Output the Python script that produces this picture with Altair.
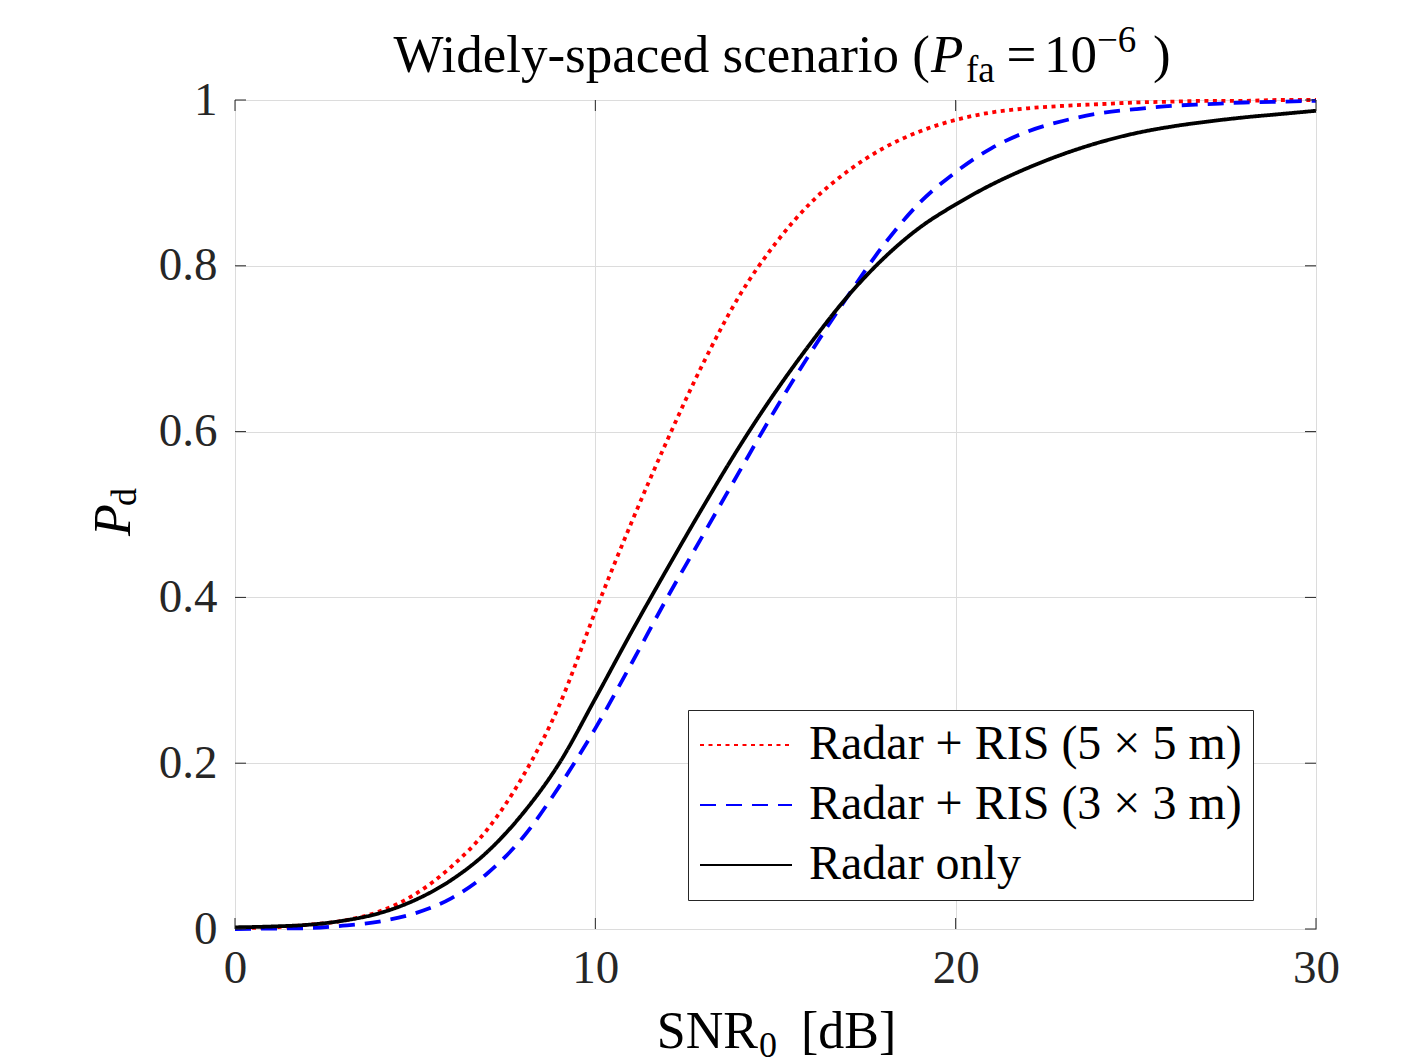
import altair as alt
import pandas as pd

# ---------------- data ----------------
snr_db = list(range(0, 31))
pd_ris_5x5 = [0.001, 0.002, 0.005, 0.010, 0.021, 0.042, 0.075, 0.120, 0.185, 0.270,
              0.383, 0.490, 0.590, 0.683, 0.764, 0.827, 0.877, 0.914, 0.942, 0.962,
              0.976, 0.985, 0.990, 0.993, 0.995, 0.997, 0.998, 0.999, 0.999, 1.000, 1.000]
pd_ris_3x3 = [0.000, 0.0005, 0.001, 0.004, 0.009, 0.019, 0.037, 0.067, 0.111, 0.172,
              0.242, 0.320, 0.400, 0.476, 0.552, 0.627, 0.697, 0.763, 0.825, 0.876,
              0.913, 0.942, 0.962, 0.975, 0.984, 0.989, 0.993, 0.995, 0.997, 0.998, 0.999]
pd_radar_only = [0.002, 0.003, 0.005, 0.010, 0.019, 0.035, 0.059, 0.093, 0.140, 0.200,
                 0.278, 0.358, 0.435, 0.510, 0.582, 0.648, 0.708, 0.763, 0.809, 0.846,
                 0.874, 0.898, 0.918, 0.935, 0.949, 0.960, 0.968, 0.974, 0.979, 0.983, 0.987]

series_names = ["Radar + RIS (5 × 5 m)", "Radar + RIS (3 × 3 m)", "Radar only"]
series_colors = ["#ff0000", "#0000ff", "#000000"]
series_dashes = [[4, 4.5], [16, 10], [1, 0]]

x_ticks = [0, 10, 20, 30]
y_ticks = [0, 0.2, 0.4, 0.6, 0.8, 1]

title_main = "Widely-spaced scenario ("
title_p = "P"
title_sub = "fa"
title_eq = "="
title_ten = "10"
title_sup = "\u22126"
title_close = ")"
xlabel_main = "SNR"
xlabel_sub = "0"
xlabel_unit = "[dB]"
ylabel_main = "P"
ylabel_sub = "d"

# ---------------- build table ----------------
rows = []
for name, vals in zip(series_names, [pd_ris_5x5, pd_ris_3x3, pd_radar_only]):
    for x, v in zip(snr_db, vals):
        rows.append({"snr": x, "pd": v, "series": name})
df = pd.DataFrame(rows)
xt_df = pd.DataFrame({"snr": x_ticks})
yt_df = pd.DataFrame({"pd": y_ticks})
one = pd.DataFrame({"_": [0]})

W, H = 1081, 829
FONT = "Liberation Serif"
AX = "#262626"
TICK = 11

xscale = alt.Scale(domain=[0, 30], nice=False, zero=False)
yscale = alt.Scale(domain=[0, 1], nice=False)

x_axis = alt.Axis(values=x_ticks, title=None, grid=True, gridColor="#dcdcdc", gridWidth=1,
                  domain=False, ticks=False, labelFont=FONT, labelFontSize=47,
                  labelColor=AX, labelPadding=16, labelFlush=False, labelOverlap=False,
                  format="d")
y_axis = alt.Axis(values=y_ticks, title=None, grid=True, gridColor="#dcdcdc", gridWidth=1,
                  domain=False, ticks=False, labelFont=FONT, labelFontSize=47,
                  labelColor=AX, labelPadding=18, labelFlush=False, labelOverlap=False,
                  labelBaseline="middle", format=".1~f")

legend = alt.Legend(title=None, orient="none", legendX=453, legendY=610,
                    direction="vertical", strokeColor=AX, fillColor="white",
                    padding=11, symbolType="stroke", symbolSize=8464, clipHeight=48,
                    symbolStrokeWidth=2, labelFont=FONT, labelFontSize=48,
                    labelColor="black", labelOffset=16, rowPadding=12, labelLimit=900)

lines = alt.Chart(df).mark_line(strokeWidth=3.8, strokeCap="butt",
                                interpolate="monotone").encode(
    x=alt.X("snr:Q", scale=xscale, axis=x_axis),
    y=alt.Y("pd:Q", scale=yscale, axis=y_axis),
    color=alt.Color("series:N", scale=alt.Scale(domain=series_names, range=series_colors),
                    legend=legend),
    strokeDash=alt.StrokeDash("series:N",
                              scale=alt.Scale(domain=series_names, range=series_dashes),
                              legend=legend),
    order=alt.Order("snr:Q"),
)

tick_kw = dict(color=AX, strokeWidth=1)
xt_bottom = alt.Chart(xt_df).mark_rule(**tick_kw).encode(
    x=alt.X("snr:Q", scale=xscale, axis=x_axis), y=alt.value(H), y2=alt.value(H - TICK))
xt_top = alt.Chart(xt_df).mark_rule(**tick_kw).encode(
    x=alt.X("snr:Q", scale=xscale, axis=x_axis), y=alt.value(0), y2=alt.value(TICK))
yt_left = alt.Chart(yt_df).mark_rule(**tick_kw).encode(
    y=alt.Y("pd:Q", scale=yscale, axis=y_axis), x=alt.value(0), x2=alt.value(TICK))
yt_right = alt.Chart(yt_df).mark_rule(**tick_kw).encode(
    y=alt.Y("pd:Q", scale=yscale, axis=y_axis), x=alt.value(W), x2=alt.value(W - TICK))


def txt(text, x, y, size, align="left", style="normal", angle=0):
    return alt.Chart(one).mark_text(text=text, font=FONT, fontSize=size, align=align,
                                    baseline="alphabetic", fontStyle=style, angle=angle,
                                    color="black").encode(x=alt.value(x), y=alt.value(y))


TB = -28.3
XB = 947.5
annotations = [
    txt(title_main, 695, TB, 53, align="right"),
    txt(title_p, 696, TB, 53, style="italic"),
    txt(title_sub, 731, -18.5, 37),
    txt(title_eq, 786.5, TB, 53, align="center"),
    txt(title_ten, 835.5, TB, 53, align="center"),
    txt(title_sup, 862, -48.3, 37),
    txt(title_close, 918, TB, 53),
    txt(xlabel_main, 523, XB, 52, align="right"),
    txt(xlabel_sub, 524, XB + 9, 36),
    txt(xlabel_unit, 566, XB, 52),
    txt(ylabel_main, -105, 420, 52, align="center", style="italic", angle=270),
    txt(ylabel_sub, -99, 406, 36, align="left", angle=270),
]

chart = alt.layer(lines, xt_bottom, xt_top, yt_left, yt_right, *annotations).properties(
    width=W, height=H,
    autosize=alt.AutoSizeParams(type="none"),
    padding={"left": 227, "top": 92, "right": 90, "bottom": 134},
    background="white",
).configure_view(stroke=AX, strokeWidth=1)

chart.save("out.html", embed_options={"renderer": "svg", "actions": False})
